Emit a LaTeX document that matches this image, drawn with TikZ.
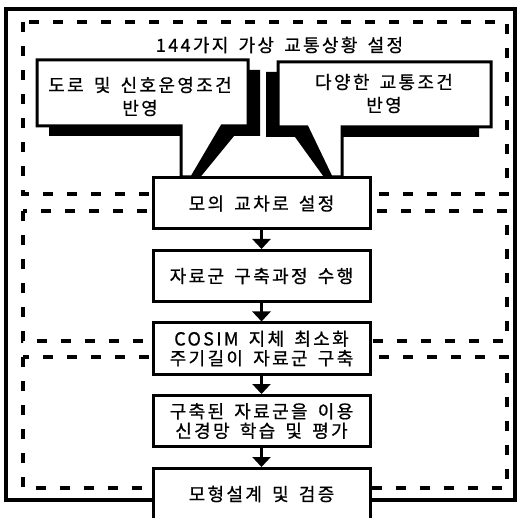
\documentclass[tikz,border=0pt]{standalone}
\usepackage{fontspec}
\newfontfamily\kr[LetterSpace=13,FakeBold=0.7,WordSpace=1.6]{Noto Sans CJK KR}
\usetikzlibrary{arrows.meta}
\begin{document}
\begin{tikzpicture}[x=1pt,y=-1pt,
  frame/.style={line width=4.5pt},
  zone/.style={line width=4pt,dash pattern=on 10pt off 14pt},
  flowbox/.style={draw,line width=3pt,fill=white,minimum width=217pt,minimum height=51pt,inner sep=0pt,align=center,font=\kr\fontsize{18}{19.5}\selectfont},
  bubble/.style={draw,line width=3pt,fill=white,line join=miter},
  bubbleshadow/.style={fill=black},
  lbl/.style={inner sep=0pt,align=center,font=\kr\fontsize{18}{23}\selectfont},
  flowarrow/.style={line width=3pt,-{Triangle[width=18pt,length=10pt]}}
]
\useasboundingbox (0,0) rectangle (519,518);
\clip (0,0) rectangle (519,518);
\fill[white] (0,0) rectangle (519,518);
% outer frame
\draw[frame] (6,9) rectangle (515,500);
% dashed zones
\draw[zone] (23,22) rectangle (507,194);
\draw[zone] (23,211) rectangle (507,341);
\draw[zone] (23,357) rectangle (507,488);
% callout shadows
\fill[bubbleshadow] (49,70) -- (260,70) -- (260,136) -- (234,136) -- (198,180) -- (193,180) -- (193,136) -- (49,136) -- cycle;
\fill[bubbleshadow] (266,72) -- (479,72) -- (479,137) -- (330,137) -- (330,180) -- (326,180) -- (295,137) -- (266,137) -- cycle;
% callouts
\draw[bubble] (37,60) -- (248,60) -- (248,126) -- (222,126) -- (192,177) -- (181,177) -- (181,126) -- (37,126) -- cycle;
\draw[bubble] (278,62) -- (491,62) -- (491,127) -- (342,127) -- (342,177) -- (331,177) -- (307,127) -- (278,127) -- cycle;
% texts
\node[lbl] (title) at (279.5,45) {144가지 가상 교통상황 설정};
\node[lbl] (left) at (140,96.5) {도로 및 신호운영조건\\반영};
\node[lbl] (right) at (384,93.5) {다양한 교통조건\\반영};
% flow
\node[flowbox] (b1) at (261.5,203.5) {모의 교차로 설정};
\node[flowbox] (b2) at (261.5,276) {자료군 구축과정 수행};
\node[flowbox] (b3) at (261.5,348.5) {COSIM 지체 최소화\\주기길이 자료군 구축};
\node[flowbox] (b4) at (261.5,421) {구축된 자료군을 이용\\신경망 학습 및 평가};
\node[flowbox] (b5) at (261.5,494) {모형설계 및 검증};
\draw[flowarrow] (b1) -- (b2);
\draw[flowarrow] (b2) -- (b3);
\draw[flowarrow] (b3) -- (b4);
\draw[flowarrow] (b4) -- (b5);
\end{tikzpicture}
\end{document}
